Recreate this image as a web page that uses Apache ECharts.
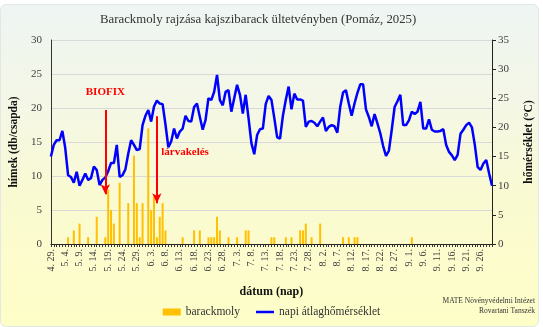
<!DOCTYPE html>
<html><head><meta charset="utf-8">
<script src="https://cdn.jsdelivr.net/npm/echarts@6/dist/echarts.min.js"></script>
<style>
html,body{margin:0;padding:0;background:#fff;}
#bg{position:absolute;left:0;top:4px;width:539px;height:323px;border:1px solid #e2e8e5;border-radius:6px;box-sizing:border-box;
background:linear-gradient(to bottom,#eef5f3 0%,#f4f7e6 30%,#fafad2 60%,#fefec8 100%);}
#chart{position:absolute;left:0;top:0;width:543px;height:327px;}
</style></head><body><div id="bg"></div><div id="chart"></div>
<script>
const categories = [
"4. 29.","4. 30.",
"5. 1.","5. 2.","5. 3.","5. 4.","5. 5.","5. 6.","5. 7.","5. 8.","5. 9.","5. 10.","5. 11.","5. 12.","5. 13.","5. 14.","5. 15.","5. 16.","5. 17.","5. 18.","5. 19.","5. 20.","5. 21.","5. 22.","5. 23.","5. 24.","5. 25.","5. 26.","5. 27.","5. 28.","5. 29.","5. 30.","5. 31.",
"6. 1.","6. 2.","6. 3.","6. 4.","6. 5.","6. 6.","6. 7.","6. 8.","6. 9.","6. 10.","6. 11.","6. 12.","6. 13.","6. 14.","6. 15.","6. 16.","6. 17.","6. 18.","6. 19.","6. 20.","6. 21.","6. 22.","6. 23.","6. 24.","6. 25.","6. 26.","6. 27.","6. 28.","6. 29.","6. 30.",
"7. 1.","7. 2.","7. 3.","7. 4.","7. 5.","7. 6.","7. 7.","7. 8.","7. 9.","7. 10.","7. 11.","7. 12.","7. 13.","7. 14.","7. 15.","7. 16.","7. 17.","7. 18.","7. 19.","7. 20.","7. 21.","7. 22.","7. 23.","7. 24.","7. 25.","7. 26.","7. 27.","7. 28.","7. 29.","7. 30.","7. 31.",
"8. 1.","8. 2.","8. 3.","8. 4.","8. 5.","8. 6.","8. 7.","8. 8.","8. 9.","8. 10.","8. 11.","8. 12.","8. 13.","8. 14.","8. 15.","8. 16.","8. 17.","8. 18.","8. 19.","8. 20.","8. 21.","8. 22.","8. 23.","8. 24.","8. 25.","8. 26.","8. 27.","8. 28.","8. 29.","8. 30.","8. 31.",
"9. 1.","9. 2.","9. 3.","9. 4.","9. 5.","9. 6.","9. 7.","9. 8.","9. 9.","9. 10.","9. 11.","9. 12.","9. 13.","9. 14.","9. 15.","9. 16.","9. 17.","9. 18.","9. 19.","9. 20.","9. 21.","9. 22.","9. 23.","9. 24.","9. 25.","9. 26.","9. 27.","9. 28.","9. 29.","9. 30."
];

// barackmoly catches (males per trap)
const mothCounts = [
0,0,0,0,0,0,1,0,2,0,
3,0,0,1,0,0,4,0,0,1,
8,5,3,0,9,0,0,6,0,13,
6,1,6,0,17,5,7,1,4,6,
2,0,0,0,0,0,1,0,0,0,
2,0,2,0,0,1,1,1,4,2,
0,0,1,0,0,1,0,0,2,2,
0,0,0,0,0,0,0,1,1,0,
0,0,1,0,1,0,0,2,2,3,
0,1,0,0,3,0,0,0,0,0,
0,0,1,0,1,0,1,1,0,0,
0,0,0,0,0,0,0,0,0,0,
0,0,0,0,0,0,1,0,0,0,
0,0,0,0,0,0,0,0,0,0,
0,0,0,0,0,0,0,0,0,0,
0,0,0,0,0
];

// napi átlaghőmérséklet (°C)
const temperature = [
15.0,17.0,17.8,17.8,19.4,16.5,11.8,11.5,10.5,12.4,
10.0,11.0,12.1,11.0,11.3,13.3,12.7,10.1,11.0,11.4,
12.5,13.9,13.9,17.0,11.5,11.8,12.8,15.5,17.8,17.0,
16.1,16.3,20.4,22.0,23.0,21.0,23.6,24.6,24.1,24.0,
20.5,16.6,17.6,19.8,18.1,19.3,19.8,22.0,21.1,21.0,
23.5,24.1,21.8,19.6,21.3,25.0,24.7,26.1,29.0,24.7,
23.8,26.1,26.4,22.7,25.0,27.3,25.6,22.4,25.6,21.6,
17.3,15.4,18.7,19.7,19.8,24.0,25.4,24.7,21.6,18.3,
18.1,22.0,24.7,27.0,23.1,25.8,24.8,24.8,24.6,20.1,
21.0,21.1,20.8,20.2,21.0,21.7,19.4,20.1,20.4,20.2,
19.1,23.5,26.0,26.4,24.1,22.0,24.1,25.9,27.4,27.4,
23.1,21.8,20.2,22.3,20.7,19.0,16.8,15.1,16.0,19.6,
23.5,24.5,25.6,20.4,20.4,21.2,22.7,22.3,22.7,24.4,
19.8,19.8,21.4,19.6,19.3,19.3,19.4,19.7,17.0,15.8,
15.2,14.4,15.3,18.9,19.6,20.4,20.8,20.0,17.0,13.2,
12.7,13.8,14.4,12.1,10.0
];

const leftAxis = {min: 0, max: 30, step: 5};
const rightAxis = {min: 0, max: 35, step: 5};

// annotations: [category index, from value, to value] on the left axis
const biofix = {day: 19, from: 19.7, to: 7.3, textAt: 22.3};
const larva = {day: 37, from: 18.8, to: 6.0, textDay: 38, textAt: 13.5};

const serif = '"Liberation Serif", "Times New Roman", serif';
const chart = echarts.init(document.getElementById('chart'), null, {renderer: 'canvas'});
chart.setOption({
  backgroundColor: 'transparent',
  animation: false,
  title: {
    text: 'Barackmoly rajzása kajszibarack ültetvényben (Pomáz, 2025)',
    left: 100, top: 13, padding: 0,
    textStyle: {fontFamily: serif, fontSize: 12.8, fontWeight: 'normal', color: '#333'}
  },
  grid: {left: 43, right: 50, top: 40, bottom: 83, containLabel: false},
  legend: {
    bottom: 4, left: 'center', itemWidth: 18, itemHeight: 7, itemGap: 16,
    textStyle: {fontFamily: serif, fontSize: 11.5, color: '#333'},
    data: [
      {name: 'barackmoly', icon: 'rect'},
      {name: 'napi átlaghőmérséklet', icon: 'path://M0,0 H18 V2.5 H0 Z'}
    ]
  },
  graphic: [
    {type: 'text', right: 8, top: 297, style: {text: 'MATE Növényvédelmi Intézet', font: '7.5px ' + serif, fill: '#333'}},
    {type: 'text', right: 8, top: 307, style: {text: 'Rovartani Tanszék', font: '7.5px ' + serif, fill: '#333'}}
  ],
  xAxis: {
    type: 'category', data: categories, boundaryGap: false,
    name: 'dátum (nap)', nameLocation: 'middle', nameGap: 42,
    nameTextStyle: {fontFamily: serif, fontSize: 12, fontWeight: 'bold', color: '#111'},
    axisLine: {lineStyle: {color: '#222', width: 1}},
    axisTick: {show: true, interval: 0, length: 3, lineStyle: {color: '#333'}},
    axisLabel: {interval: 4, rotate: 90, fontFamily: serif, fontSize: 10, color: '#404040', margin: 5},
    splitLine: {show: false}
  },
  yAxis: [
    {
      type: 'value', min: leftAxis.min, max: leftAxis.max, interval: leftAxis.step, position: 'left',
      name: 'hímek (db/csapda)', nameLocation: 'middle', nameGap: 27, nameRotate: 90,
      nameTextStyle: {fontFamily: serif, fontSize: 11.5, fontWeight: 'bold', color: '#111'},
      axisLine: {show: true, lineStyle: {color: '#333'}},
      axisTick: {show: false},
      axisLabel: {fontFamily: serif, fontSize: 11, color: '#404040', margin: 9},
      splitLine: {show: true, lineStyle: {color: '#d9d9d9', width: 1}}
    },
    {
      type: 'value', min: rightAxis.min, max: rightAxis.max, interval: rightAxis.step, position: 'right',
      name: 'hőmérséklet (°C)', nameLocation: 'middle', nameGap: 31, nameRotate: 90,
      nameTextStyle: {fontFamily: serif, fontSize: 11.5, fontWeight: 'bold', color: '#111'},
      axisLine: {show: true, lineStyle: {color: '#222'}},
      axisTick: {show: true, length: 4, lineStyle: {color: '#222'}},
      axisLabel: {fontFamily: serif, fontSize: 11, color: '#404040', margin: 6},
      splitLine: {show: false}
    }
  ],
  series: [
    {
      name: 'barackmoly', type: 'bar', yAxisIndex: 0, data: mothCounts,
      barWidth: 2, itemStyle: {color: '#ffc000'}, z: 2,
      markLine: {
        silent: true, symbol: ['none', 'arrow'], symbolSize: [7, 10],
        lineStyle: {color: '#ff0000', width: 2, type: 'solid'},
        label: {show: false},
        data: [
          [{coord: [categories[biofix.day], biofix.from]}, {coord: [categories[biofix.day], biofix.to]}],
          [{coord: [categories[larva.day], larva.from]}, {coord: [categories[larva.day], larva.to]}]
        ]
      },
      markPoint: {
        silent: true, symbol: 'rect', symbolSize: 1, itemStyle: {color: 'rgba(0,0,0,0)'},
        data: [
          {coord: [categories[biofix.day], biofix.textAt], label: {show: true, position: 'inside', formatter: 'BIOFIX', color: '#ff0000', fontFamily: serif, fontWeight: 'bold', fontSize: 11}},
          {coord: [categories[larva.textDay], larva.textAt], label: {show: true, position: 'right', distance: 1, formatter: 'lárvakelés', color: '#ff0000', fontFamily: serif, fontWeight: 'bold', fontSize: 11}}
        ]
      }
    },
    {
      name: 'napi átlaghőmérséklet', type: 'line', yAxisIndex: 1, data: temperature,
      symbol: 'none', smooth: false, z: 3,
      lineStyle: {color: '#0000ff', width: 2.5}, itemStyle: {color: '#0000ff'}
    }
  ]
});
</script></body></html>
